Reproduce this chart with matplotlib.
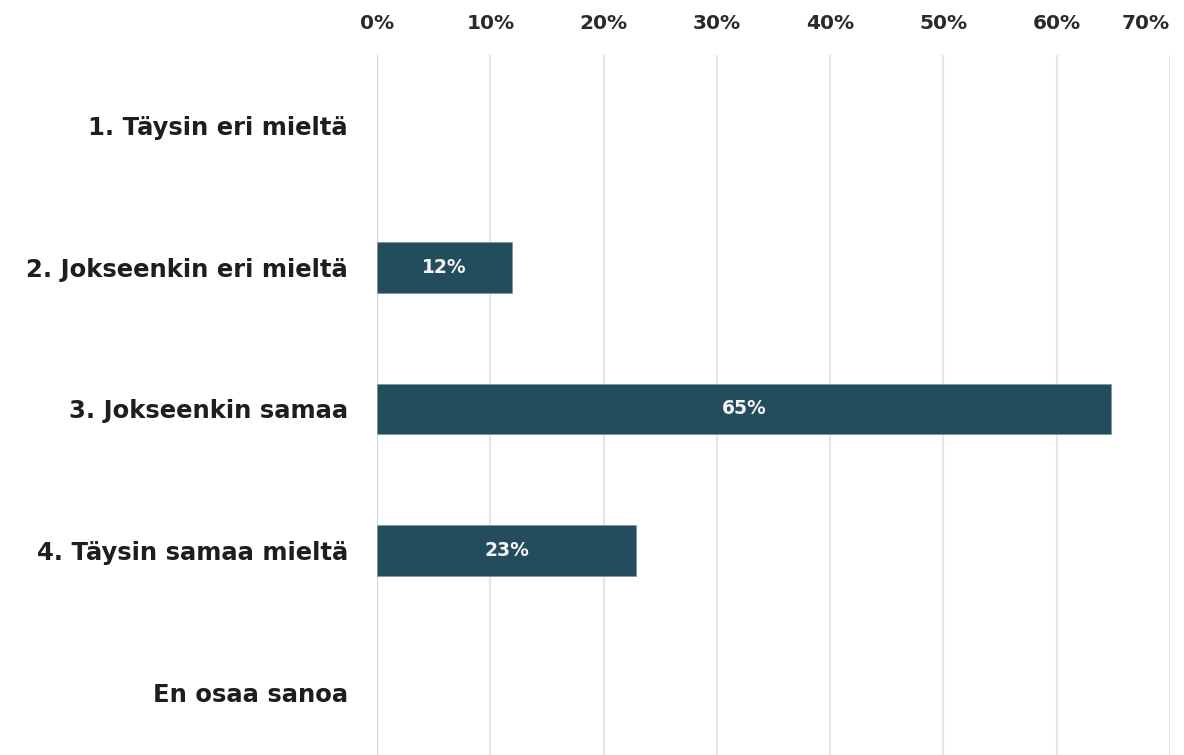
""" horizontal bar chart of survey answers """
from matplotlib import pyplot as plt

plt.rcParams["font.family"] = ["DejaVu Sans"]
plt.rcParams["font.weight"] = "bold"

categories = [
    "1. Täysin eri mieltä",
    "2. Jokseenkin eri mieltä",
    "3. Jokseenkin samaa",
    "4. Täysin samaa mieltä",
    "En osaa sanoa"]
values = [0, 11.9, 64.8, 22.9, 0]
ticks = [0, 10, 20, 30, 40, 50, 60, 70]

fig = plt.figure(figsize=(11.84, 7.55), dpi=100)
ax = fig.add_axes([377 / 1184, -8 / 755, (1170 - 377) / 1184, (763 - 55) / 755])

pos = list(range(len(categories)))
bars = ax.barh(pos, values, height=0.355, color="#234d5c",
               edgecolor="#7f9aa4",
               linewidth=[0.6 if v > 0 else 0 for v in values], zorder=3)

for b, v in zip(bars, values):
    if v > 0:
        ax.text(v / 2, b.get_y() + b.get_height() / 2, f"{round(v)}%",
                ha="center", va="center", color="#f4f4f4",
                fontsize=13.5, fontweight="bold", zorder=4)

ax.set_ylim(len(categories) - 0.5, -0.5)
ax.set_xlim(0, 70)
ax.set_yticks(pos)
ax.set_yticklabels(categories, fontsize=17.5, fontweight="bold", color="#1e1e1e")
ax.set_xticks(ticks)
ax.set_xticklabels([f"{t}%" for t in ticks], fontsize=14.5, fontweight="bold",
                   color="#2a2a2a")
ax.xaxis.tick_top()
ax.tick_params(axis="x", length=0, pad=16)
ax.tick_params(axis="y", length=0, pad=21)
ax.xaxis.get_major_ticks()[-1].label2.set_horizontalalignment("right")

for s in ax.spines.values():
    s.set_visible(False)

for t in ticks:
    ax.axvline(t, color="#c9d6ea" if t == 0 else "#e6e6e6",
               linewidth=1.5, zorder=1)

fig.savefig("out.png", dpi=100)
